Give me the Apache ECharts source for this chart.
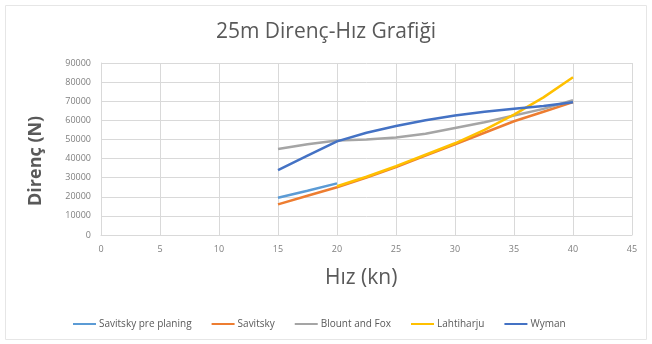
<!DOCTYPE html>
<html>
<head>
<meta charset="utf-8">
<script src="https://cdn.jsdelivr.net/npm/echarts@6/dist/echarts.min.js"></script>
<style>
  html, body { margin: 0; padding: 0; background: #fff; }
  #chart { width: 652px; height: 344px; }
</style>
</head>
<body>
<div id="chart"></div>
<script>
// Speed samples (knots)
const speeds = [15, 17.5, 20, 22.5, 25, 27.5, 30, 32.5, 35, 37.5, 40];

// Resistance estimates (N) per method; null where a method is not given
const savitskyPrePlaning = [19500, 23200, 27000, null, null, null, null, null, null, null, null];
const savitsky = [16000, 20500, 25000, 30000, 35500, 41500, 47500, 53500, 59500, 64500, 69500];
const blountFox = [45000, 47500, 49500, 50000, 51000, 53000, 56000, 59000, 62500, 66000, 70500];
const lahtiharju = [null, null, 25500, 30500, 36000, 42000, 48000, 55000, 63000, 72000, 82500];
const wyman = [34000, 41500, 49000, 53500, 57000, 60000, 62500, 64500, 66000, 67500, 69500];

const seriesNames = ['Savitsky pre planing', 'Savitsky', 'Blount and Fox', 'Lahtiharju', 'Wyman'];
const seriesValues = [savitskyPrePlaning, savitsky, blountFox, lahtiharju, wyman];
const seriesColors = ['#5B9BD5', '#ED7D31', '#A5A5A5', '#FFC000', '#4472C4'];

const chart = echarts.init(document.getElementById('chart'));

const series = seriesNames.map((name, i) => ({
  name: name,
  type: 'line',
  data: speeds.map((s, k) => [s, seriesValues[i][k]]),
  showSymbol: false,
  connectNulls: false,
  lineStyle: { width: 2.5, color: seriesColors[i] },
  itemStyle: { color: seriesColors[i] },
  emphasis: { disabled: true }
}));

chart.setOption({
  animation: false,
  backgroundColor: '#ffffff',
  title: {
    text: '25m Direnç-Hız Grafiği',
    left: 'center',
    top: 17,
    textStyle: { fontFamily: 'Open Sans', fontSize: 21, fontWeight: 'normal', color: '#595959' }
  },
  grid: { left: 101, right: 20, top: 63, bottom: 109, containLabel: false },
  xAxis: {
    type: 'value',
    min: 0, max: 45, interval: 5,
    axisLine: { show: true, lineStyle: { color: '#d9d9d9' } },
    axisTick: { show: false },
    splitLine: { show: true, lineStyle: { color: '#d9d9d9', width: 1 } },
    axisLabel: { color: '#7f7f7f', fontSize: 9, fontFamily: 'Open Sans', margin: 10 }
  },
  yAxis: {
    type: 'value',
    min: 0, max: 90000, interval: 10000,
    axisLine: { show: true, lineStyle: { color: '#d9d9d9' } },
    axisTick: { show: false },
    splitLine: { show: true, lineStyle: { color: '#d9d9d9', width: 1 } },
    axisLabel: { color: '#7f7f7f', fontSize: 9, fontFamily: 'Open Sans', margin: 10, formatter: (v) => String(v) }
  },
  legend: {
    bottom: 10,
    left: 68,
    itemWidth: 23,
    itemHeight: 2,
    itemGap: 20,
    icon: 'rect',
    textStyle: { color: '#595959', fontSize: 10, fontFamily: 'Open Sans', padding: [0, 0, 0, -2] },
    data: seriesNames
  },
  graphic: [
    {
      type: 'rect',
      silent: true,
      shape: { x: 5.5, y: 5.5, width: 641, height: 334 },
      style: { fill: 'none', stroke: '#e6e6e6', lineWidth: 1 }
    },
    {
      type: 'text',
      silent: true,
      left: 325,
      top: 268,
      style: { text: 'Hız (kn)', fontFamily: 'Open Sans', fontSize: 21, fill: '#595959' }
    },
    {
      type: 'text',
      silent: true,
      rotation: Math.PI / 2,
      x: 27,
      y: 206,
      style: { text: 'Direnç (N)', fontFamily: 'Open Sans', fontSize: 18, fontWeight: 'bold', fill: '#595959' }
    }
  ],
  series: series
});
</script>
</body>
</html>
